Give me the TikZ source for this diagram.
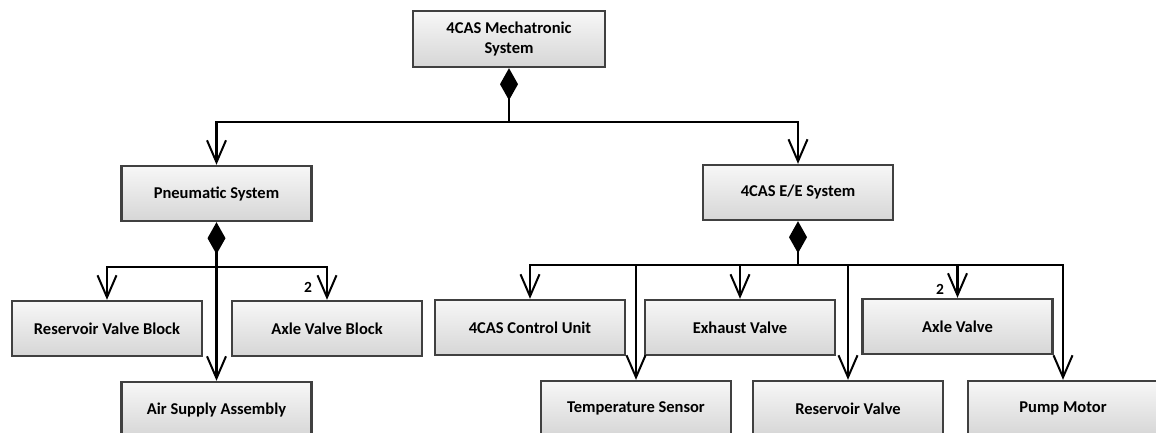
\documentclass[tikz,border=0pt]{standalone}
\usepackage{fontspec}
\setmainfont{Carlito}
\usetikzlibrary{arrows.meta}
\definecolor{boxline}{HTML}{404040}
\definecolor{boxtop}{HTML}{F7F7F7}
\definecolor{boxbot}{HTML}{D6D6D6}
\begin{document}
\begin{tikzpicture}[x=1pt,y=-1pt,
  block/.style={draw=boxline, line width=2.4pt, top color=boxtop, bottom color=boxbot,
    minimum width=190pt, minimum height=55pt, inner sep=0pt, align=center,
    font=\fontsize{16.5}{20}\selectfont\bfseries},
  link/.style={line width=2.2pt, -{Straight Barb[length=22pt,width=19pt,line width=2pt]}},
  whole/.style={line width=2.2pt, {Diamond[length=32pt,width=18pt]}-},
  mult/.style={font=\fontsize{15.5}{18}\selectfont\bfseries, inner sep=0pt}]
\useasboundingbox (0,0) rectangle (1156,432);
\begin{scope}
\clip (0,0) rectangle (1156,432);
% top level
\node[block, minimum width=192pt, minimum height=56pt] (sys) at (509,39) {4CAS Mechatronic\\System};
% subsystems
\node[block] (pneu) at (216.5,193.5) {Pneumatic System};
\node[block] (ee) at (798,192.5) {4CAS E/E System};
% pneumatic parts
\node[block] (rvb) at (107,328.5) {Reservoir Valve Block};
\node[block] (avb) at (327,328.5) {Axle Valve Block};
\node[block] (air) at (216.5,409.5) {Air Supply Assembly};
% E/E parts
\node[block] (ecu) at (530,327.5) {4CAS Control Unit};
\node[block] (exh) at (740,327.5) {Exhaust Valve};
\node[block] (axv) at (957.5,326.5) {Axle Valve};
\node[block] (temp) at (636,408.5) {Temperature Sensor};
\node[block] (resv) at (848,408.5) {Reservoir Valve};
\node[block] (pump) at (1063,408.5) {Pump Motor};

% junctions of the composition trees
\coordinate (j1) at (509,122);
\coordinate (j2) at (216.5,267);
\coordinate (j3) at (798,265);

% system composition
\draw[whole] (sys.south) -- (j1);
\draw[link] (j1) -| (pneu.north);
\draw[link] (j1) -| (ee.north);

% pneumatic composition
\draw[whole] (pneu.south) -- (j2);
\draw[link] (j2) -- (air.north);
\draw[link] (j2) -| (rvb.north);
\draw[link] (j2) -| (avb.north);
\node[mult] (m1) at (308,287) {2};

% E/E composition
\draw[whole] (ee.south) -- (j3);
\draw[link] (j3) -| (ecu.north);
\draw[link] (j3) -| (temp.north);
\draw[link] (j3) -| (exh.north);
\draw[link] (j3) -| (resv.north);
\draw[link] (j3) -| (axv.north);
\draw[link] (j3) -| (pump.north);
\node[mult] (m2) at (940,289) {2};
\end{scope}
\end{tikzpicture}
\end{document}
